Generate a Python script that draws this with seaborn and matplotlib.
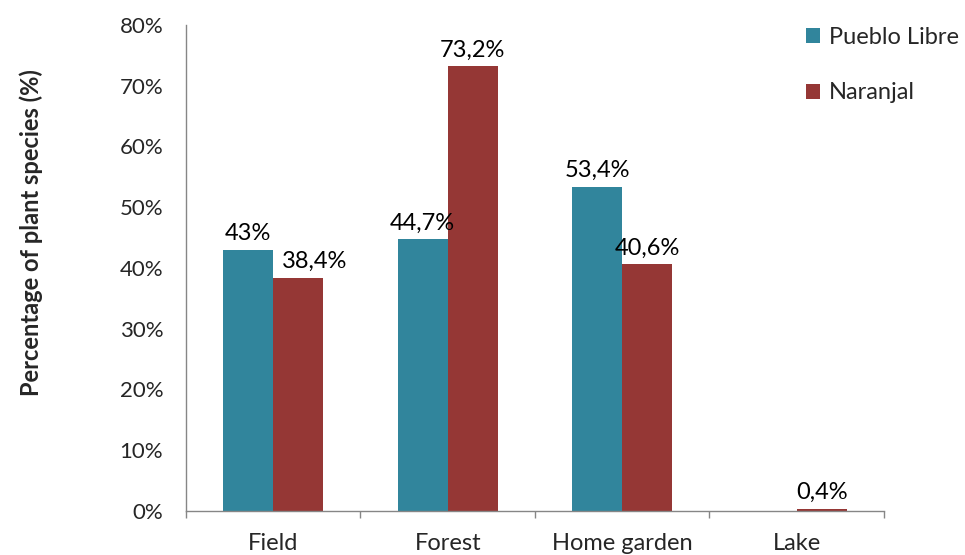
import matplotlib
matplotlib.use("Agg")
import matplotlib.pyplot as plt
import seaborn as sns
import pandas as pd
from matplotlib.ticker import FixedLocator, PercentFormatter

categories = ["Field", "Forest", "Home garden", "Lake"]
series_names = ["Pueblo Libre", "Naranjal"]
pueblo_libre = [43.0, 44.7, 53.4, 0.0]
naranjal = [38.4, 73.2, 40.6, 0.4]
pueblo_labels = ["43%", "44,7%", "53,4%", ""]
naranjal_labels = ["38,4%", "73,2%", "40,6%", "0,4%"]
colors = ["#31859C", "#953735"]

df = pd.DataFrame({
    "Habitat": categories * 2,
    "Site": [series_names[0]] * 4 + [series_names[1]] * 4,
    "Value": pueblo_libre + naranjal,
})

sns.set_style("white")
plt.rcParams["font.family"] = ["Lato", "DejaVu Sans"]

FS = 16
LFS = 17
fig = plt.figure(figsize=(9.65, 5.55), dpi=100)
ax = fig.add_axes([0.1927, 0.0793, 0.7233, 0.8757])

sns.barplot(data=df, x="Habitat", y="Value", hue="Site", order=categories,
            hue_order=series_names, palette=colors, width=0.573, gap=0,
            saturation=1, ax=ax, legend=True, edgecolor="none", linewidth=0)

anns = []
for cont, labs in zip(ax.containers, [pueblo_labels, naranjal_labels]):
    anns.append(ax.bar_label(cont, labels=labs, padding=4, fontsize=LFS, color="#000000"))
# nudge the Field / Naranjal label right, as in the original, to avoid overlap
anns[1][0].xyann = (12, 4)

ax.set_xlim(-0.5, 3.5)
ax.set_ylim(0, 80)
ax.set_yticks(range(0, 81, 10))
ax.yaxis.set_major_formatter(PercentFormatter(decimals=0))
ax.xaxis.set_major_locator(FixedLocator([-0.5, 0.5, 1.5, 2.5, 3.5]))
ax.set_xticklabels([])
ax.xaxis.set_minor_locator(FixedLocator([0, 1, 2, 3]))
ax.set_xticklabels(categories, minor=True)
ax.tick_params(axis="x", which="major", length=5, width=1, color="#868686", direction="out")
ax.tick_params(axis="x", which="minor", length=0, pad=16, labelsize=LFS)
ax.tick_params(axis="y", length=4.3, width=1, color="#868686", direction="out", labelsize=FS, pad=12)
ax.tick_params(axis="x", bottom=True, which="both")

for s in ["top", "right"]:
    ax.spines[s].set_visible(False)
for s in ["left", "bottom"]:
    ax.spines[s].set_color("#868686")
    ax.spines[s].set_linewidth(1)

ax.set_xlabel("")
ax.set_ylabel("Percentage of plant species (%)", fontsize=17, fontweight="bold")
ax.yaxis.set_label_coords(-0.205, 0.572)

leg = ax.legend(loc="upper left", bbox_to_anchor=(0.875, 1.015), frameon=False,
                fontsize=LFS, handlelength=0.6, handleheight=0.6,
                handletextpad=0.35, labelspacing=1.45, borderaxespad=0)

fig.savefig("out.png", dpi=100)
